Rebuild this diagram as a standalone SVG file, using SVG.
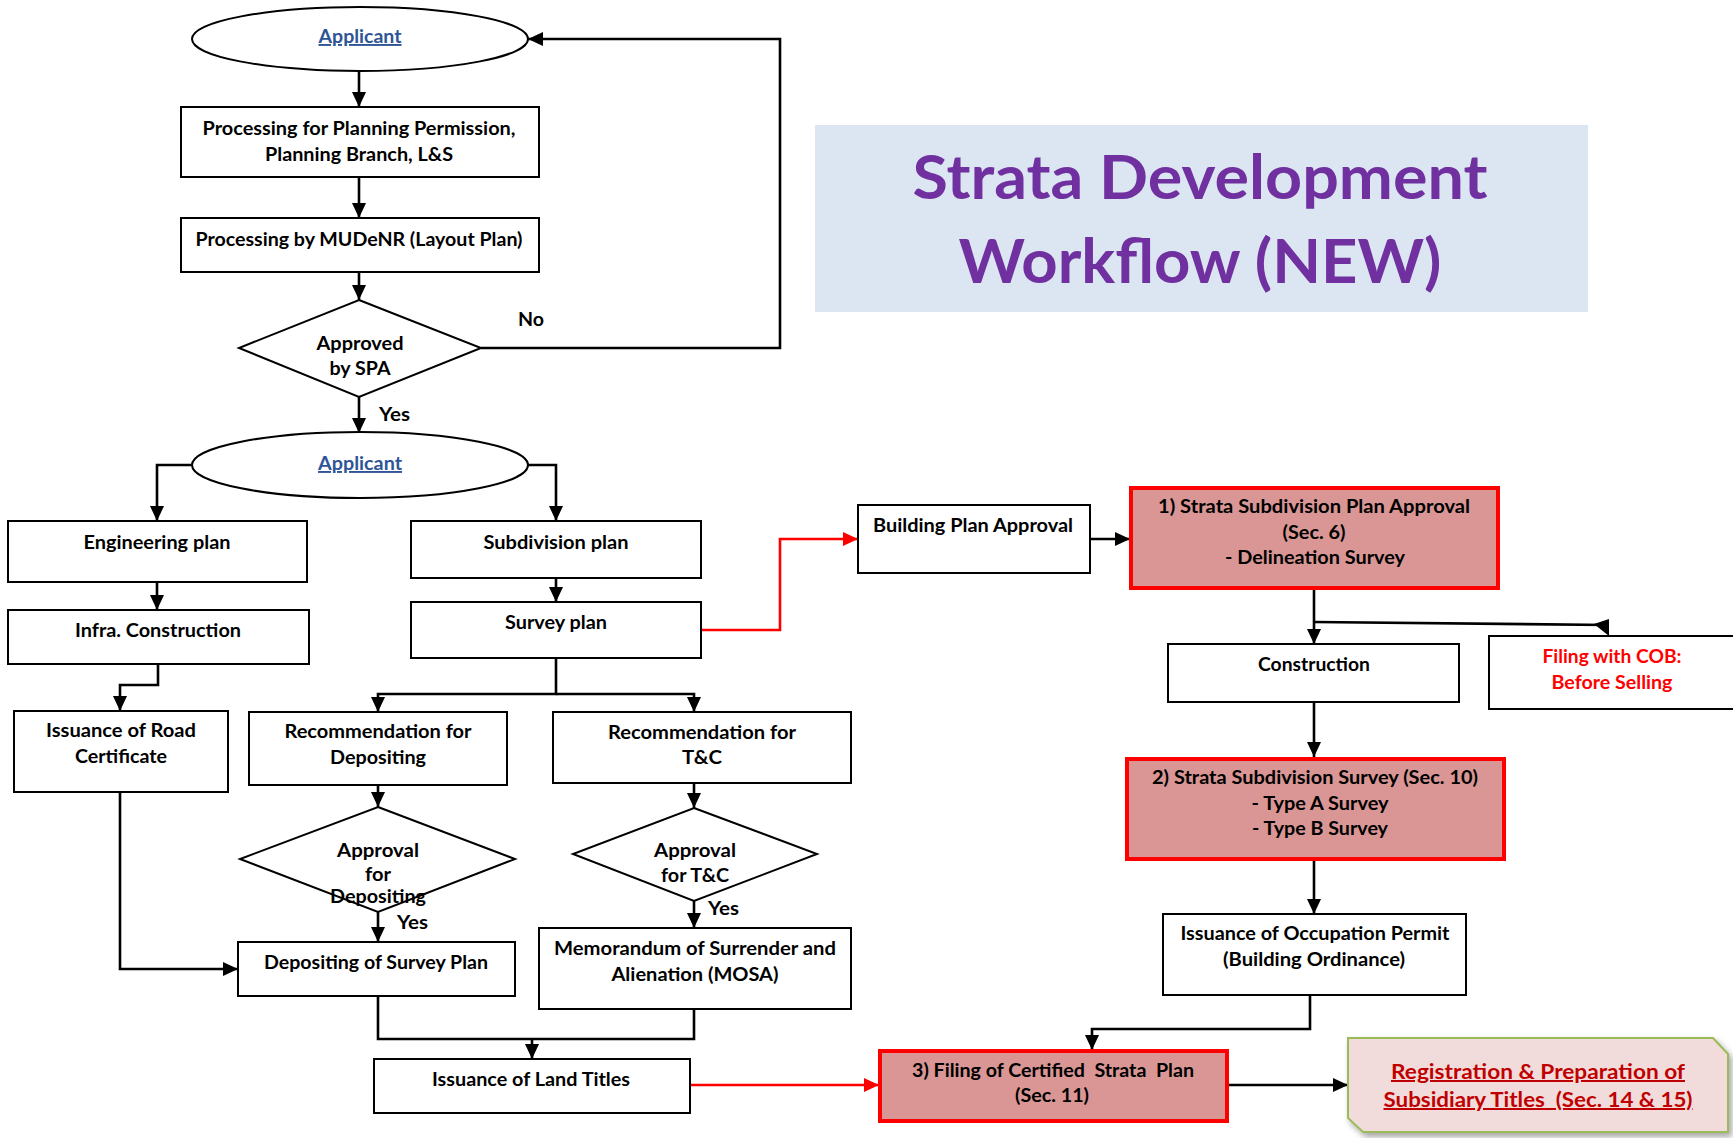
<svg xmlns="http://www.w3.org/2000/svg" width="1733" height="1138" viewBox="0 0 1733 1138">
  <style>
    .box { fill: #ffffff; stroke: #000000; stroke-width: 2; }
    .key { fill: #D99694; stroke: #FF0000; stroke-width: 4; }
    .t { font-family: Lato, "Liberation Sans", sans-serif; font-weight: bold; font-size: 19px; fill: #000000; text-anchor: middle; }
    .lbl { text-anchor: start; }
    .link { fill: #2E5596; text-decoration: underline; }
    .warn { fill: #FF0000; }
    .reg { fill: #C00000; text-decoration: underline; font-size: 20px; }
    .title { font-family: Lato, "Liberation Sans", sans-serif; font-weight: bold; font-size: 62px; fill: #7030A0; text-anchor: middle; }
    .wire { fill: none; stroke: #000000; stroke-width: 2.6; }
    .wire-red { fill: none; stroke: #FF0000; stroke-width: 2.6; }
  </style>
  <defs>
    <marker id="arrow" markerUnits="userSpaceOnUse" markerWidth="16" markerHeight="14" refX="15" refY="7" orient="auto">
      <path d="M0,0 L15,7 L0,14 Z" fill="#000000"/>
    </marker>
    <marker id="arrow-red" markerUnits="userSpaceOnUse" markerWidth="16" markerHeight="14" refX="15" refY="7" orient="auto">
      <path d="M0,0 L15,7 L0,14 Z" fill="#FF0000"/>
    </marker>
    <filter id="shadow" x="-5%" y="-10%" width="115%" height="130%">
      <feDropShadow dx="3" dy="4" stdDeviation="3" flood-color="#000000" flood-opacity="0.35"/>
    </filter>
  </defs>

  <rect width="1733" height="1138" fill="#ffffff"/>

  <!-- title banner -->
  <g id="title">
    <rect x="815" y="125" width="773" height="187" fill="#DCE6F2"/>
    <text class="title" x="1200" y="199" textLength="575" lengthAdjust="spacingAndGlyphs">Strata Development</text>
    <text class="title" x="1200" y="283" textLength="483" lengthAdjust="spacingAndGlyphs">Workflow (NEW)</text>
  </g>

  <!-- connectors -->
  <g id="connectors">
    <path class="wire" d="M359,71 V107" marker-end="url(#arrow)"/>
    <path class="wire" d="M359,177 V218" marker-end="url(#arrow)"/>
    <path class="wire" d="M359,272 V300" marker-end="url(#arrow)"/>
    <path class="wire" d="M481,348 H780 V39 H528" marker-end="url(#arrow)"/>
    <path class="wire" d="M359,397 V433" marker-end="url(#arrow)"/>
    <path class="wire" d="M192,465 H157 V521" marker-end="url(#arrow)"/>
    <path class="wire" d="M528,465 H556 V521" marker-end="url(#arrow)"/>
    <path class="wire" d="M157,582 V610" marker-end="url(#arrow)"/>
    <path class="wire" d="M158,664 V685 H120 V711" marker-end="url(#arrow)"/>
    <path class="wire" d="M556,578 V602" marker-end="url(#arrow)"/>
    <path class="wire" d="M556,658 V694 H378 V712" marker-end="url(#arrow)"/>
    <path class="wire" d="M556,694 H694 V712" marker-end="url(#arrow)"/>
    <path class="wire" d="M378,785 V807" marker-end="url(#arrow)"/>
    <path class="wire" d="M378,912 V942" marker-end="url(#arrow)"/>
    <path class="wire" d="M694,783 V808" marker-end="url(#arrow)"/>
    <path class="wire" d="M694,901 V928" marker-end="url(#arrow)"/>
    <path class="wire" d="M120,792 V969 H238" marker-end="url(#arrow)"/>
    <path class="wire" d="M378,996 V1039 H694 V1009"/>
    <path class="wire" d="M532,1039 V1059" marker-end="url(#arrow)"/>
    <path class="wire-red" d="M690,1085 H879" marker-end="url(#arrow-red)"/>
    <path class="wire-red" d="M701,630 H780 V539 H858" marker-end="url(#arrow-red)"/>
    <path class="wire" d="M1090,539 H1130" marker-end="url(#arrow)"/>
    <path class="wire" d="M1314,589 V644" marker-end="url(#arrow)"/>
    <path class="wire" d="M1314,622 L1609,625"/>
    <polygon points="1594,624 1609,619 1609,636" fill="#000000"/>
    <path class="wire" d="M1314,702 V757" marker-end="url(#arrow)"/>
    <path class="wire" d="M1314,860 V914" marker-end="url(#arrow)"/>
    <path class="wire" d="M1310,995 V1029 H1092 V1050" marker-end="url(#arrow)"/>
    <path class="wire" d="M1228,1085 H1348" marker-end="url(#arrow)"/>
  </g>

  <!-- labels on connectors -->
  <g id="edge-labels">
    <text class="t lbl" x="518" y="326" textLength="26" lengthAdjust="spacingAndGlyphs">No</text>
    <text class="t lbl" x="379" y="421" textLength="31" lengthAdjust="spacingAndGlyphs">Yes</text>
    <text class="t lbl" x="397" y="929" textLength="31" lengthAdjust="spacingAndGlyphs">Yes</text>
    <text class="t lbl" x="708" y="915" textLength="31" lengthAdjust="spacingAndGlyphs">Yes</text>
  </g>

  <g id="applicant-top">
    <ellipse cx="360" cy="39" rx="168" ry="32" fill="#ffffff" stroke="#000000" stroke-width="2"/>
    <text class="t link" x="360" y="43" textLength="83" lengthAdjust="spacingAndGlyphs">Applicant</text>
  </g>

  <g id="planning-permission">
    <rect class="box" x="181" y="107" width="358" height="70"/>
    <text class="t" x="359" y="135" textLength="313" lengthAdjust="spacingAndGlyphs">Processing for Planning Permission,</text>
    <text class="t" x="359" y="161" textLength="188" lengthAdjust="spacingAndGlyphs">Planning Branch, L&amp;S</text>
  </g>

  <g id="mudenr">
    <rect class="box" x="181" y="218" width="358" height="54"/>
    <text class="t" x="359" y="246" textLength="327" lengthAdjust="spacingAndGlyphs">Processing by MUDeNR (Layout Plan)</text>
  </g>

  <g id="approved-spa">
    <polygon points="359,300 481,348 359,397 239,348" fill="#ffffff" stroke="#000000" stroke-width="2"/>
    <text class="t" x="360" y="350" textLength="87" lengthAdjust="spacingAndGlyphs">Approved</text>
    <text class="t" x="360" y="375" textLength="61" lengthAdjust="spacingAndGlyphs">by SPA</text>
  </g>

  <g id="applicant-split">
    <ellipse cx="360" cy="465" rx="168" ry="33" fill="#ffffff" stroke="#000000" stroke-width="2"/>
    <text class="t link" x="360" y="470" textLength="84" lengthAdjust="spacingAndGlyphs">Applicant</text>
  </g>

  <g id="engineering-plan">
    <rect class="box" x="8" y="521" width="299" height="61"/>
    <text class="t" x="157" y="549" textLength="147" lengthAdjust="spacingAndGlyphs">Engineering plan</text>
  </g>

  <g id="infra-construction">
    <rect class="box" x="8" y="610" width="301" height="54"/>
    <text class="t" x="158" y="637" textLength="166" lengthAdjust="spacingAndGlyphs">Infra. Construction</text>
  </g>

  <g id="road-certificate">
    <rect class="box" x="14" y="711" width="214" height="81"/>
    <text class="t" x="121" y="737" textLength="150" lengthAdjust="spacingAndGlyphs">Issuance of Road</text>
    <text class="t" x="121" y="763" textLength="92" lengthAdjust="spacingAndGlyphs">Certificate</text>
  </g>

  <g id="subdivision-plan">
    <rect class="box" x="411" y="521" width="290" height="57"/>
    <text class="t" x="556" y="549" textLength="145" lengthAdjust="spacingAndGlyphs">Subdivision plan</text>
  </g>

  <g id="survey-plan">
    <rect class="box" x="411" y="602" width="290" height="56"/>
    <text class="t" x="556" y="629" textLength="102" lengthAdjust="spacingAndGlyphs">Survey plan</text>
  </g>

  <g id="rec-depositing">
    <rect class="box" x="249" y="712" width="258" height="73"/>
    <text class="t" x="378" y="738" textLength="187" lengthAdjust="spacingAndGlyphs">Recommendation for</text>
    <text class="t" x="378" y="764" textLength="96" lengthAdjust="spacingAndGlyphs">Depositing</text>
  </g>

  <g id="rec-tc">
    <rect class="box" x="553" y="712" width="298" height="71"/>
    <text class="t" x="702" y="739" textLength="188" lengthAdjust="spacingAndGlyphs">Recommendation for</text>
    <text class="t" x="702" y="764" textLength="40" lengthAdjust="spacingAndGlyphs">T&amp;C</text>
  </g>

  <g id="approval-depositing">
    <polygon points="378,807 515,859 378,912 240,859" fill="#ffffff" stroke="#000000" stroke-width="2"/>
    <text class="t" x="378" y="857" textLength="82" lengthAdjust="spacingAndGlyphs">Approval</text>
    <text class="t" x="378" y="881" textLength="26" lengthAdjust="spacingAndGlyphs">for</text>
    <text class="t" x="378" y="903" textLength="96" lengthAdjust="spacingAndGlyphs">Depositing</text>
  </g>

  <g id="approval-tc">
    <polygon points="694,808 817,854 694,901 573,854" fill="#ffffff" stroke="#000000" stroke-width="2"/>
    <text class="t" x="695" y="857" textLength="82" lengthAdjust="spacingAndGlyphs">Approval</text>
    <text class="t" x="695" y="882" textLength="68" lengthAdjust="spacingAndGlyphs">for T&amp;C</text>
  </g>

  <g id="depositing-survey-plan">
    <rect class="box" x="238" y="942" width="277" height="54"/>
    <text class="t" x="376" y="969" textLength="224" lengthAdjust="spacingAndGlyphs">Depositing of Survey Plan</text>
  </g>

  <g id="mosa">
    <rect class="box" x="539" y="928" width="312" height="81"/>
    <text class="t" x="695" y="955" textLength="282" lengthAdjust="spacingAndGlyphs">Memorandum of Surrender and</text>
    <text class="t" x="695" y="981" textLength="167" lengthAdjust="spacingAndGlyphs">Alienation (MOSA)</text>
  </g>

  <g id="land-titles">
    <rect class="box" x="374" y="1059" width="316" height="54"/>
    <text class="t" x="531" y="1086" textLength="198" lengthAdjust="spacingAndGlyphs">Issuance of Land Titles</text>
  </g>

  <g id="building-plan-approval">
    <rect class="box" x="858" y="505" width="232" height="68"/>
    <text class="t" x="973" y="532" textLength="200" lengthAdjust="spacingAndGlyphs">Building Plan Approval</text>
  </g>

  <g id="strata-plan-approval">
    <rect class="key" x="1131" y="488" width="367" height="100"/>
    <text class="t" x="1314" y="513" textLength="312" lengthAdjust="spacingAndGlyphs">1) Strata Subdivision Plan Approval</text>
    <text class="t" x="1314" y="539" textLength="63" lengthAdjust="spacingAndGlyphs">(Sec. 6)</text>
    <text class="t" x="1315" y="564" textLength="180" lengthAdjust="spacingAndGlyphs">- Delineation Survey</text>
  </g>

  <g id="construction">
    <rect class="box" x="1168" y="644" width="291" height="58"/>
    <text class="t" x="1314" y="671" textLength="112" lengthAdjust="spacingAndGlyphs">Construction</text>
  </g>

  <g id="filing-cob">
    <rect class="box" x="1489" y="636" width="260" height="73"/>
    <text class="t warn" x="1612" y="663" textLength="139" lengthAdjust="spacingAndGlyphs">Filing with COB:</text>
    <text class="t warn" x="1612" y="689" textLength="121" lengthAdjust="spacingAndGlyphs">Before Selling</text>
  </g>

  <g id="strata-survey">
    <rect class="key" x="1127" y="759" width="377" height="100"/>
    <text class="t" x="1315" y="784" textLength="326" lengthAdjust="spacingAndGlyphs">2) Strata Subdivision Survey (Sec. 10)</text>
    <text class="t" x="1320" y="810" textLength="137" lengthAdjust="spacingAndGlyphs">- Type A Survey</text>
    <text class="t" x="1320" y="835" textLength="136" lengthAdjust="spacingAndGlyphs">- Type B Survey</text>
  </g>

  <g id="occupation-permit">
    <rect class="box" x="1163" y="914" width="303" height="81"/>
    <text class="t" x="1315" y="940" textLength="269" lengthAdjust="spacingAndGlyphs">Issuance of Occupation Permit</text>
    <text class="t" x="1314" y="966" textLength="182" lengthAdjust="spacingAndGlyphs">(Building Ordinance)</text>
  </g>

  <g id="certified-strata-plan">
    <rect class="key" x="880" y="1051" width="347" height="70"/>
    <text class="t" x="1053" y="1077" textLength="282" lengthAdjust="spacingAndGlyphs" xml:space="preserve">3) Filing of Certified  Strata  Plan</text>
    <text class="t" x="1052" y="1102" textLength="74" lengthAdjust="spacingAndGlyphs">(Sec. 11)</text>
  </g>

  <g id="subsidiary-titles">
    <polygon points="1348,1038 1713,1038 1728,1054 1728,1132 1363,1132 1348,1118" fill="#F2DCDB" stroke="#9BBB59" stroke-width="2" filter="url(#shadow)"/>
    <text class="t reg" x="1538" y="1079" textLength="294" lengthAdjust="spacingAndGlyphs">Registration &amp; Preparation of</text>
    <text class="t reg" x="1538" y="1107" textLength="309" lengthAdjust="spacingAndGlyphs" xml:space="preserve">Subsidiary Titles  (Sec. 14 &amp; 15)</text>
  </g>
</svg>
